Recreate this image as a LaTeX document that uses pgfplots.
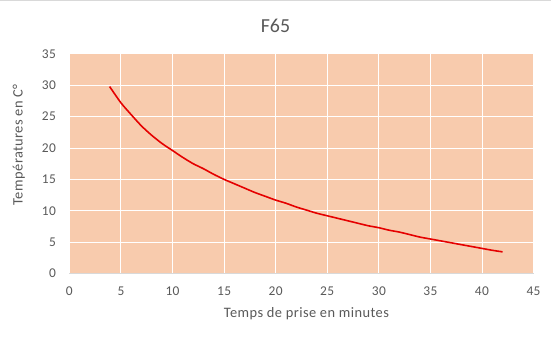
\documentclass[border=0pt]{standalone}
\usepackage{pgfplots}
\pgfplotsset{compat=1.18}
\usepackage{fontspec}
\setmainfont{Carlito}
\definecolor{peach}{HTML}{F8CBAD}
\definecolor{txt}{HTML}{595959}
\definecolor{axl}{HTML}{D9D9D9}
\begin{document}
\begin{tikzpicture}
\begin{axis}[
  scale only axis,
  width=465bp, height=220bp,
  xmin=0, xmax=45, ymin=0, ymax=35,
  xtick={0,5,...,45}, ytick={0,5,...,35},
  axis background/.style={fill=peach},
  grid=major,
  major grid style={white, line width=0.9pt},
  axis line style={draw=none},
  axis x line*=bottom,
  axis y line*=left,
  tick style={draw=none},
  ticklabel style={font=\fontsize{13.5}{15}\selectfont\addfontfeature{LetterSpace=3}, text=txt},
  xticklabel style={yshift=-10bp},
  yticklabel style={xshift=-10bp},
  /pgf/number format/assume math mode=true,
  xlabel={Temps de prise en minutes},
  ylabel={Températures en C°},
  label style={font=\fontsize{14.5}{16}\selectfont\addfontfeature{LetterSpace=3}, text=txt},
  xlabel style={yshift=-5bp, xshift=5bp},
  ylabel style={yshift=10bp, xshift=19bp},
  title={F65},
  title style={font=\fontsize{20}{22}\selectfont, text=txt, at={(0.444,1)}, anchor=south, yshift=12bp},
  clip=false,
]
\draw[axl, line width=0.7pt] (rel axis cs:0,0) -- (rel axis cs:1,0);
\addplot[color=red!90!black, line width=1.6pt, line join=round, smooth, tension=0.4] coordinates {
(3.9,29.8) (5,27.2) (6,25.3) (7,23.5) (8,22.0) (9,20.7) (10,19.6) (11,18.5)
(12,17.5) (13,16.7) (14,15.8) (15,15.0) (16,14.3) (17,13.6) (18,12.9)
(19,12.3) (20,11.7) (21,11.2) (22,10.6) (23,10.1) (24,9.6) (25,9.2)
(26,8.8) (27,8.4) (28,8.0) (29,7.6) (30,7.3) (31,6.9) (32,6.6) (33,6.2)
(34,5.8) (35,5.5) (36,5.2) (37,4.9) (38,4.6) (39,4.3) (40,4.0) (41,3.7)
(42,3.45)
};
\draw[axl, line width=1bp] ([shift={(-69bp,53.5bp)}]rel axis cs:0,1) -- ([shift={(17bp,53.5bp)}]rel axis cs:1,1);
\path[use as bounding box] ([shift={(-69bp,-78bp)}]rel axis cs:0,0) rectangle ([shift={(17bp,54bp)}]rel axis cs:1,1);
\end{axis}
\end{tikzpicture}
\end{document}
